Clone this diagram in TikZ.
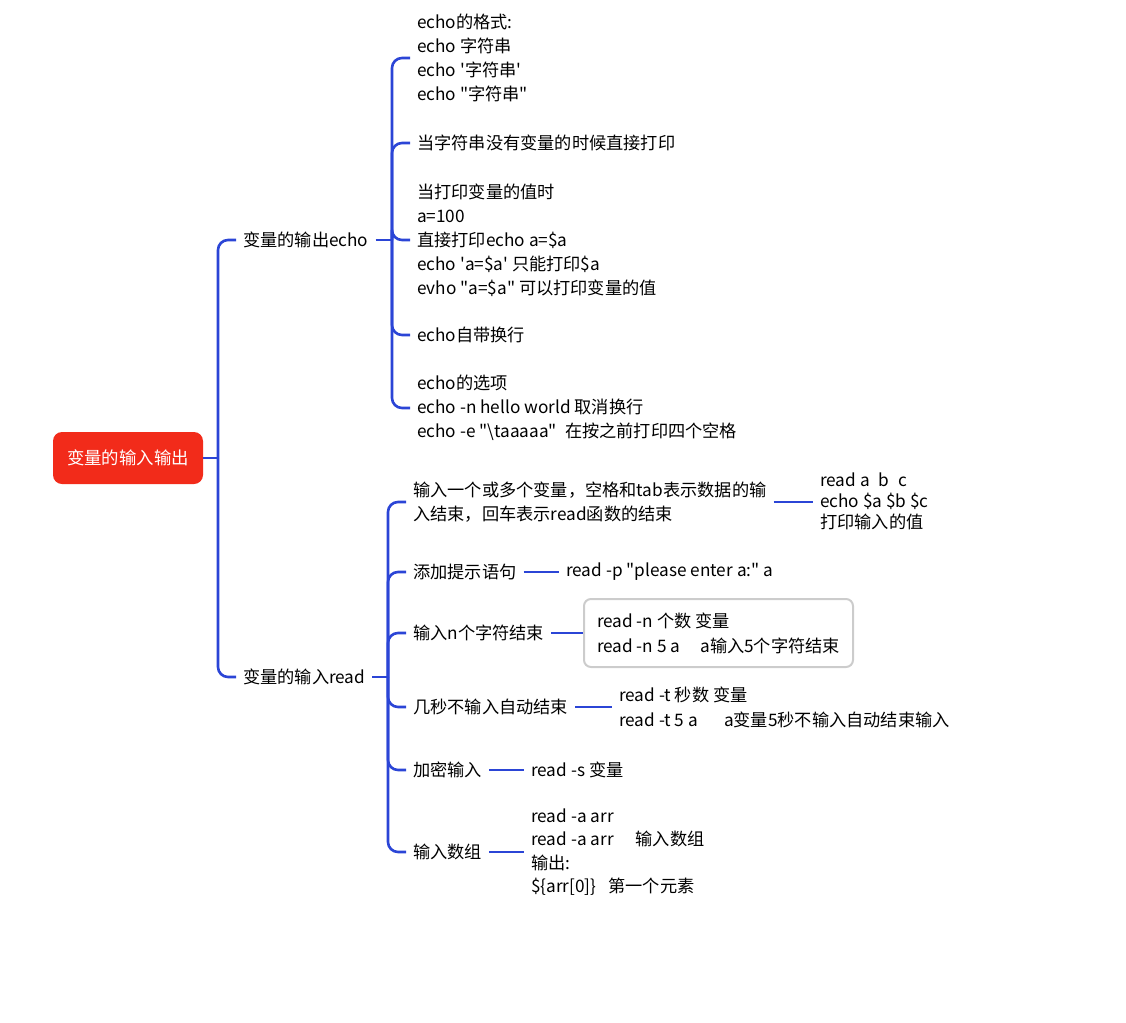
\documentclass[tikz,border=0pt]{standalone}
\usepackage{fontspec}
\setmainfont{Noto Sans CJK SC}
\definecolor{lineblue}{RGB}{43,69,214}
\definecolor{rootred}{RGB}{242,43,26}
\definecolor{boxgray}{RGB}{204,204,204}
\newcommand{\dq}{\textquotedbl}
\begin{document}
\begin{tikzpicture}[x=1pt,y=-1pt,
  txt/.style={anchor=west, inner xsep=7pt, inner ysep=2pt, align=left, font=\fontsize{17.2}{24}\selectfont},
  conn/.style={draw=lineblue, line width=2.6pt, rounded corners=10pt},
  rootbox/.style={fill=rootred, rounded corners=9pt, minimum width=150pt, minimum height=52pt, text=white, font=\fontsize{17.4}{20}\selectfont, inner sep=0pt},
  graybox/.style={draw=boxgray, line width=2pt, rounded corners=7pt, anchor=west, inner xsep=10pt, minimum height=68pt, minimum width=269pt, align=left, font=\fontsize{17.2}{25}\selectfont}]
\useasboundingbox (0,0) rectangle (1126,1022);

\node[rootbox] (root) at (128,458) {变量的输入输出};

% level 1
\node[txt] (e) at (236,240) {变量的输出echo};
\node[txt] (r) at (236,677) {变量的输入read};

% echo children
\node[txt] (e1) at (410,58) {echo的格式:\\echo 字符串\\echo \textquotesingle 字符串\textquotesingle\\echo \dq 字符串\dq};
\node[txt] (e2) at (410,143) {当字符串没有变量的时候直接打印};
\node[txt] (e3) at (410,240) {当打印变量的值时\\a=100\\直接打印echo a=\$a\\echo \textquotesingle a=\$a\textquotesingle\ 只能打印\$a\\evho \dq a=\$a\dq\ 可以打印变量的值};
\node[txt] (e4) at (410,335) {echo自带换行};
\node[txt] (e5) at (410,408) {echo的选项\\echo -n hello world 取消换行\\echo -e \dq\textbackslash taaaaa\dq\hspace{8pt}在按之前打印四个空格};

% read children
\node[txt] (r1) at (406,502) {输入一个或多个变量，空格和tab表示数据的输\\入结束，回车表示read函数的结束};
\node[txt] (r2) at (406,572) {添加提示语句};
\node[txt] (r3) at (406,633) {输入n个字符结束};
\node[txt] (r4) at (406,707) {几秒不输入自动结束};
\node[txt] (r5) at (406,770) {加密输入};
\node[txt] (r6) at (406,852) {输入数组};

% grandchildren
\node[txt, font=\fontsize{17.2}{21}\selectfont] (g1) at (813,501) {read a\hspace{9pt}b\hspace{9pt}c\\echo \$a \$b \$c\\打印输入的值};
\node[txt] (g2) at (559,572) {read -p \dq please enter a:\dq\ a};
\node[graybox] (g3) at (583,633) {read -n 个数 变量\\read -n 5 a\hspace{20pt}a输入5个字符结束};
\node[txt, font=\fontsize{17.2}{25}\selectfont] (g4) at (612,707) {read -t 秒数 变量\\read -t 5 a\hspace{26pt}a变量5秒不输入自动结束输入};
\node[txt] (g5) at (524,770) {read -s 变量};
\node[txt, font=\fontsize{17.2}{23.3}\selectfont] (g6) at (524,852) {read -a arr\\read -a arr\hspace{22pt}输入数组\\输出:\\\$\{arr[0]\}\hspace{12pt}第一个元素};

% connectors root
\coordinate (jr) at (218,458);
\draw[conn] (root.east) -- (jr);
\draw[conn] (jr) |- (e.west);
\draw[conn] (jr) |- (r.west);

% echo connectors
\coordinate (je) at (392,240);
\draw[conn] (e.east) -- (je);
\foreach \c in {e1,e2,e3,e4,e5} \draw[conn] (je) |- (\c.west);

% read connectors
\coordinate (jrd) at (388,677);
\draw[conn] (r.east) -- (jrd);
\foreach \c in {r1,r2,r3,r4,r5,r6} \draw[conn] (jrd) |- (\c.west);

% grandchild connectors
\draw[conn] (r1.east) -- (r1.east -| g1.west);
\draw[conn] (r2.east) -- (g2.west);
\draw[conn] (r3.east) -- (g3.west);
\draw[conn] (r4.east) -- (g4.west);
\draw[conn] (r5.east) -- (g5.west);
\draw[conn] (r6.east) -- (g6.west);
\end{tikzpicture}
\end{document}
